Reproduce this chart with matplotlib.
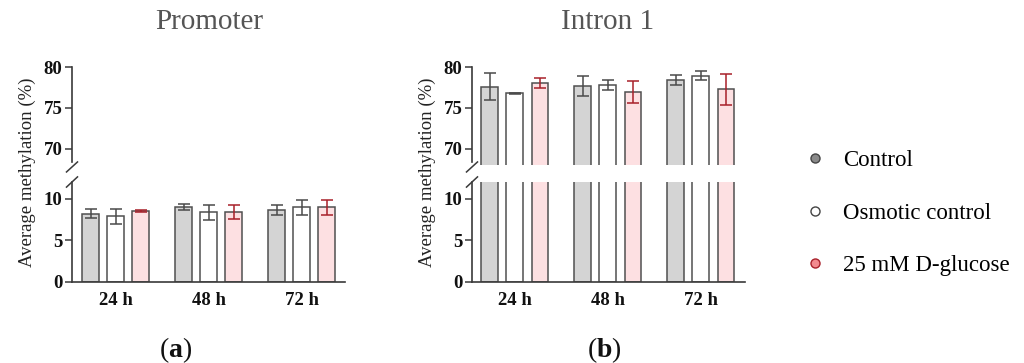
import matplotlib
matplotlib.use("Agg")
import matplotlib.pyplot as plt
import numpy as np
from matplotlib.lines import Line2D

plt.rcParams['font.family'] = ['Liberation Serif', 'DejaVu Serif']
plt.rcParams['mathtext.fontset'] = 'custom'
plt.rcParams['mathtext.bf'] = 'Liberation Serif:bold'
plt.rcParams['mathtext.rm'] = 'Liberation Serif'

# data
timepoints = ["24 h", "48 h", "72 h"]
groups = ["Control", "Osmotic control", "25 mM D-glucose"]

promoter_mean = {
    "Control": [8.2, 9.0, 8.6],
    "Osmotic control": [7.9, 8.35, 8.95],
    "25 mM D-glucose": [8.5, 8.45, 9.0],
}
promoter_sd = {
    "Control": [0.55, 0.35, 0.6],
    "Osmotic control": [0.9, 0.85, 0.95],
    "25 mM D-glucose": [0.1, 0.85, 0.9],
}
intron_mean = {
    "Control": [77.6, 77.7, 78.4],
    "Osmotic control": [76.8, 77.8, 78.9],
    "25 mM D-glucose": [78.05, 76.95, 77.25],
}
intron_sd = {
    "Control": [1.7, 1.25, 0.6],
    "Osmotic control": [0.05, 0.6, 0.55],
    "25 mM D-glucose": [0.6, 1.35, 1.95],
}

fills = {"Control": "#d4d4d4", "Osmotic control": "#ffffff", "25 mM D-glucose": "#fde0e2"}
err_colors = {"Control": "#4a4a4a", "Osmotic control": "#4a4a4a", "25 mM D-glucose": "#a8202a"}
edge = "#505050"
axis_col = "#3a3a3a"

fig = plt.figure(figsize=(10.24, 3.63), dpi=100)
H = 363.0
W = 1024.0


def px_axes(x0, x1, ytop, ybot):
    return fig.add_axes([x0 / W, 1 - ybot / H, (x1 - x0) / W, (ybot - ytop) / H])


def draw_panel(x0, x1, xlim, means, sds, title, letter, title_x, letter_x):
    ax_top = px_axes(x0, x1, 67, 165)
    ax_bot = px_axes(x0, x1, 182, 282)
    x = np.arange(len(timepoints))
    step, width = 0.27, 0.18
    for i, g in enumerate(groups):
        pos = x + (i - 1) * step
        for ax in (ax_top, ax_bot):
            ax.bar(pos, means[g], width, color=fills[g], edgecolor=edge, linewidth=1.1, zorder=2)
            ax.errorbar(pos, means[g], yerr=sds[g], fmt='none', ecolor=err_colors[g],
                        elinewidth=1.1, capsize=4, capthick=1.1, zorder=3)
    ax_top.set_ylim(68, 80)
    ax_bot.set_ylim(0, 12)
    ax_top.set_yticks([70, 75, 80])
    ax_bot.set_yticks([0, 5, 10])
    for ax in (ax_top, ax_bot):
        ax.set_xlim(*xlim)
        for s in ("top", "right"):
            ax.spines[s].set_visible(False)
        ax.spines["left"].set_color(axis_col)
        ax.spines["bottom"].set_color(axis_col)
        ax.spines["left"].set_linewidth(1.2)
        ax.spines["bottom"].set_linewidth(1.2)
        ax.tick_params(axis='y', colors=axis_col, length=5, width=1.1, labelsize=13.5, pad=2)
        for lab in ax.get_yticklabels():
            lab.set_fontweight('bold')
            lab.set_color('#111111')
    ax_top.spines["bottom"].set_visible(False)
    ax_top.set_xticks([])
    ax_bot.set_xticks(x)
    ax_bot.set_xticklabels(timepoints, fontweight='bold', fontsize=13.5, color='#111111')
    ax_bot.tick_params(axis='x', length=0, pad=7)

    # break marks on the y axis
    dx = 5.5 / (x1 - x0)
    dy = 5.0 / 98
    ax_top.plot([-dx, dx], [-0.02 - dy, -0.02 + dy], transform=ax_top.transAxes,
                color=axis_col, lw=1.1, clip_on=False)
    ax_bot.plot([-dx, dx], [1.0 - dy, 1.0 + dy], transform=ax_bot.transAxes,
                color=axis_col, lw=1.1, clip_on=False)
    ax_top.spines["left"].set_bounds(68.4, 80)

    fig.text((x0 - 45) / W, 1 - 172 / H, "Average methylation (%)", rotation=90,
             ha='center', va='center', fontsize=13.5, color='#222222')
    fig.text(title_x / W, 1 - 22 / H, title, ha='center', va='center', fontsize=21, color='#555555')
    fig.text(letter_x / W, 1 - 350 / H, r"($\mathbf{" + letter + "}$)", ha='center', va='center',
             fontsize=20, color='#111111')


draw_panel(72, 345, (-0.47, 2.465), promoter_mean, promoter_sd, "Promoter", "a", 209, 176)
draw_panel(472, 745, (-0.46, 2.475), intron_mean, intron_sd, "Intron 1", "b", 608, 604)

handles = [
    Line2D([], [], ls='none', marker='o', markersize=6.5, markerfacecolor='#8a8a8a', markeredgecolor='#444444'),
    Line2D([], [], ls='none', marker='o', markersize=6.5, markerfacecolor='#ffffff', markeredgecolor='#444444'),
    Line2D([], [], ls='none', marker='o', markersize=6.5, markerfacecolor='#f28a8f', markeredgecolor='#a8202a'),
]
fig.legend(handles, groups, loc='center left', bbox_to_anchor=(804 / W, 1 - 213 / H),
           frameon=False, fontsize=16.5, labelspacing=1.38, handletextpad=0.7, handlelength=1.0,
           borderpad=0, borderaxespad=0)

fig.savefig("out.png", dpi=100)
